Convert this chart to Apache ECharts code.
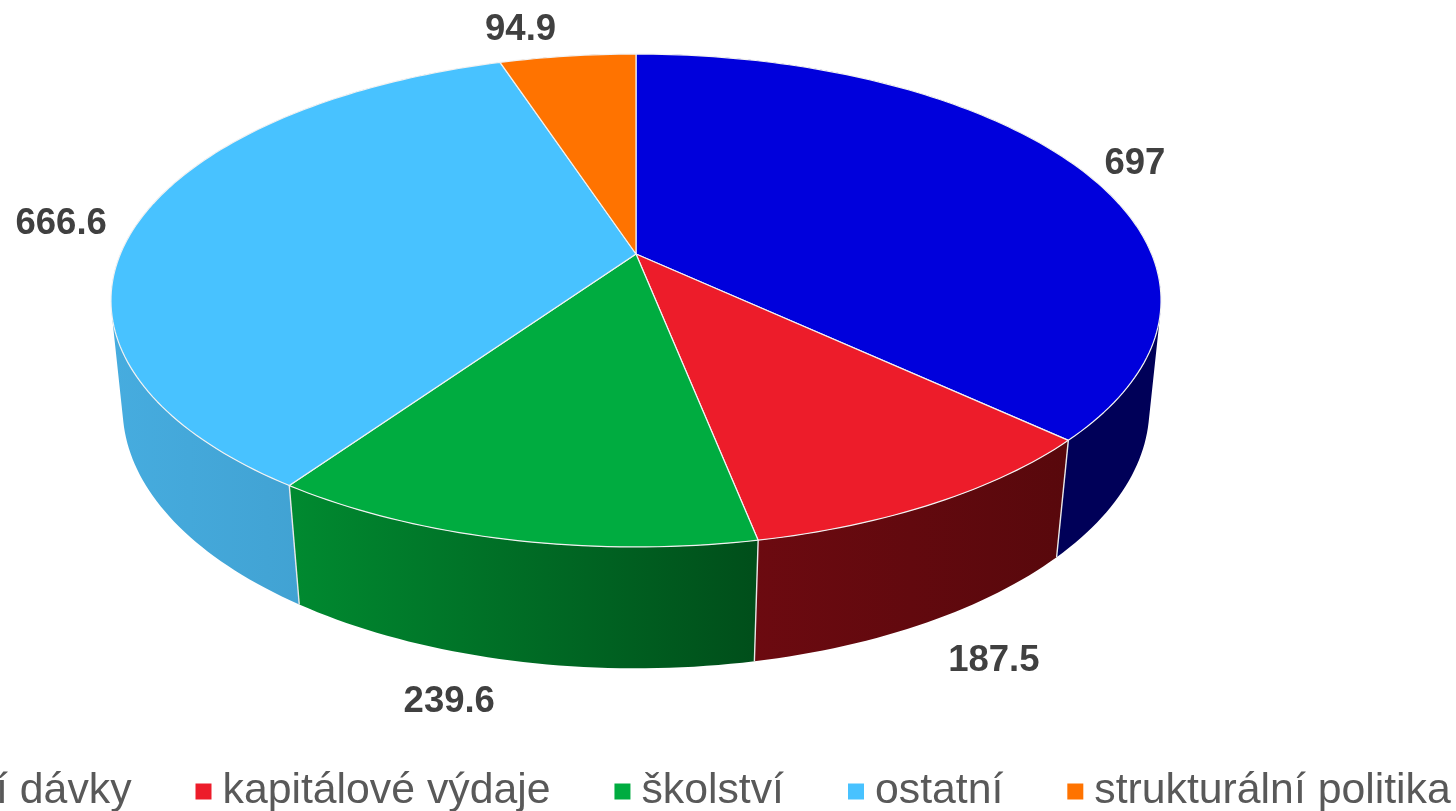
<!DOCTYPE html>
<html>
<head>
<meta charset="utf-8">
<title>Pie</title>
<style>
  html, body { margin: 0; padding: 0; background: #fff; overflow: hidden; }
  #main { width: 1456px; height: 811px; }
</style>
<script src="https://cdn.jsdelivr.net/npm/echarts@6/dist/echarts.min.js"></script>
</head>
<body>
<div id="main"></div>
<script>
const categories = ['sociální dávky', 'kapitálové výdaje', 'školství', 'ostatní', 'strukturální politika']
const values = [697, 187.5, 239.6, 666.6, 94.9]

const topColors = ['#0000DC', '#ED1C2A', '#00AC40', '#48C2FF', '#FF7300']
const wallFrom = ['#000058', '#6C0A10', '#008A30', '#46ACDF', '#A04800']
const wallTo = ['#000058', '#58080C', '#004E1A', '#3C98C6', '#A04800']

// perspective of the disc: unit circle on the table -> screen
const topDisc = { cx: 636, cy: 254, a: 515.6, b: 237.7, k: 0.1886 }
const baseDisc = { cx: 636, cy: 361, a: 505, b: 252, k: 0.18 }
// where each value label sits relative to the rim point of its slice
const labelShift = [[59, -2], [67, 38], [-62, 41], [-78, 3], [-47, -26]]

const total = values.reduce((s, v) => s + v, 0)
const startAngles = values.map((v, i) => values.slice(0, i).reduce((s, x) => s + x, 0) / total * Math.PI * 2)

function project (disc, angle) {
  const u = Math.sin(angle)
  const v = Math.cos(angle)
  const d = 1 + disc.k * v
  return [disc.cx + disc.a * u / d, disc.cy - disc.b * v / d]
}

// side of a slice, one path made of many quads so there are no seams
echarts.graphic.registerShape('pieWall', echarts.graphic.extendShape({
  shape: { top: [], base: [] },
  buildPath: function (ctx, shape) {
    for (let s = 0; s < shape.top.length - 1; s++) {
      let quad = [shape.top[s], shape.top[s + 1], shape.base[s + 1], shape.base[s]]
      let area = 0
      quad.forEach((p, j) => {
        const q = quad[(j + 1) % 4]
        area += p[0] * q[1] - q[0] * p[1]
      })
      if (area < 0) quad = quad.reverse()
      ctx.moveTo(quad[0][0], quad[0][1])
      for (let j = 1; j < 4; j++) ctx.lineTo(quad[j][0], quad[j][1])
      ctx.closePath()
    }
  }
}))

function renderSlice (params, api) {
  const i = params.seriesIndex
  const from = startAngles[i]
  const sweep = api.value(0) / total * Math.PI * 2
  const steps = Math.ceil(sweep / 0.02)
  const angles = []
  for (let s = 0; s <= steps; s++) angles.push(from + sweep * s / steps)

  const topArc = angles.map(a => project(topDisc, a))
  const baseArc = angles.map(a => project(baseDisc, a))
  const xs = topArc.concat(baseArc).map(p => p[0])
  const wallFill = new echarts.graphic.LinearGradient(Math.min(...xs), 0, Math.max(...xs), 0, [
    { offset: 0, color: wallFrom[i] },
    { offset: 1, color: wallTo[i] }
  ], true)

  const children = []
  children.push({
    type: 'pieWall',
    z2: 1,
    shape: { top: topArc, base: baseArc },
    style: { fill: wallFill }
  })
  children.push({
    type: 'line',
    z2: 2,
    shape: { x1: topArc[0][0], y1: topArc[0][1], x2: baseArc[0][0], y2: baseArc[0][1] },
    style: { stroke: '#E8E8E8', lineWidth: 1.4 }
  })
  children.push({
    type: 'polygon',
    z2: 3,
    shape: { points: [[topDisc.cx, topDisc.cy]].concat(topArc) },
    style: { fill: topColors[i], stroke: '#F2F2F2', lineWidth: 1.2, lineJoin: 'round' }
  })
  const rim = project(topDisc, from + sweep / 2)
  const rimBase = project(baseDisc, from + sweep / 2)
  const anchor = Math.cos(from + sweep / 2) < -0.5 ? rimBase : rim
  children.push({
    type: 'text',
    z2: 4,
    style: {
      x: anchor[0] + labelShift[i][0],
      y: anchor[1] + labelShift[i][1],
      text: String(api.value(0)),
      fill: '#404040',
      font: 'bold 36.5px "Liberation Sans"',
      align: 'center',
      verticalAlign: 'middle'
    }
  })
  return { type: 'group', children }
}

const myChart = echarts.init(document.getElementById('main'), null, { renderer: 'canvas' })
const option = {
  animation: false,
  legend: {
    data: categories,
    left: -164,
    top: 770,
    width: 1900,
    icon: 'rect',
    itemWidth: 16,
    itemHeight: 16,
    itemGap: 64,
    padding: 0,
    textStyle: {
      fontFamily: 'Liberation Sans',
      fontSize: 42.75,
      color: '#595959',
      padding: [0, 0, 0, 6]
    }
  },
  series: categories.map((name, i) => ({
    name,
    type: 'custom',
    coordinateSystem: 'none',
    itemStyle: { color: topColors[i] },
    renderItem: renderSlice,
    data: [[values[i]]]
  }))
}
option && myChart.setOption(option)
</script>
</body>
</html>
